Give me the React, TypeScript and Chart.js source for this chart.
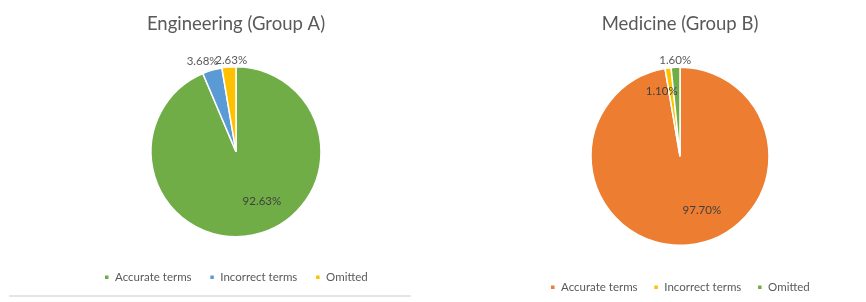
import React, { useEffect, useRef } from 'react';
import { Chart, registerables } from 'chart.js';

Chart.register(...registerables);

// ---- Data ----
const categories = ['Accurate terms', 'Incorrect terms', 'Omitted'];
const engineeringTitle = 'Engineering (Group A)';
const engineeringValues = [92.63, 3.68, 2.63];
const engineeringColors = ['#70AD47', '#5B9BD5', '#FFC000'];
const medicineTitle = 'Medicine (Group B)';
const medicineValues = [97.7, 1.1, 1.6];
const medicineColors = ['#ED7D31', '#FFC000', '#70AD47'];

// ---- Label placement styles (inside / outside end) ----
type Placement = { inside: boolean; r?: number; shift?: number };
const engineeringLabelPlacement: Placement[] = [
  { inside: true, r: 0.66, shift: -16 },
  { inside: false, shift: -4 },
  { inside: false, shift: 1.8 },
];
const medicineLabelPlacement: Placement[] = [
  { inside: true, r: 0.66, shift: -17 },
  { inside: true, r: 0.76, shift: -8 },
  { inside: false },
];

const FONT = 'Lato, "Open Sans", sans-serif';
const LABEL_SIZE = 11.5;
const LABEL_GAP = 0.5;

function makePieLabels(placement: Placement[]) {
  return {
    id: 'pieLabels',
    afterDatasetsDraw(chart: any) {
      const ctx: CanvasRenderingContext2D = chart.ctx;
      const meta = chart.getDatasetMeta(0);
      const values = chart.data.datasets[0].data as number[];
      ctx.save();
      ctx.font = `${LABEL_SIZE}px ${FONT}`;
      ctx.textAlign = 'center';
      ctx.textBaseline = 'middle';
      meta.data.forEach((arc: any, i: number) => {
        const x = arc.x;
        const y = arc.y;
        const startAngle = arc.startAngle;
        const endAngle = arc.endAngle;
        const outerRadius = arc.outerRadius;
        const p = placement[i] || { inside: false };
        const text = Number(values[i]).toFixed(2) + '%';
        const a = (startAngle + endAngle) / 2 + (((p.shift || 0) * Math.PI) / 180);
        const dx = Math.cos(a);
        const dy = Math.sin(a);
        let d: number;
        if (p.inside) {
          d = outerRadius * (p.r || 0.66);
        } else {
          const w = ctx.measureText(text).width;
          d = outerRadius + LABEL_GAP + (Math.abs(dx) * w) / 2 + (Math.abs(dy) * LABEL_SIZE) / 2;
        }
        ctx.fillStyle = p.inside ? '#404040' : '#595959';
        ctx.fillText(text, x + dx * d, y + dy * d);
      });
      ctx.restore();
    },
  };
}

type PieProps = {
  title: string;
  values: number[];
  colors: string[];
  placement: Placement[];
  left: number;
  width: number;
  height: number;
  radius: number;
  titlePadBottom: number;
  legendPadding: number;
  layoutPadBottom: number;
};

function PieChart(props: PieProps) {
  const ref = useRef<HTMLCanvasElement | null>(null);
  useEffect(() => {
    if (!ref.current) return;
    const chart = new Chart(ref.current, {
      type: 'pie',
      data: {
        labels: categories,
        datasets: [
          {
            data: props.values,
            backgroundColor: props.colors,
            borderColor: '#ffffff',
            borderWidth: 1.5,
            hoverOffset: 0,
            radius: props.radius,
          } as any,
        ],
      },
      options: {
        responsive: false,
        animation: false,
        devicePixelRatio: 1,
        layout: { padding: { top: 0, left: 0, right: 0, bottom: props.layoutPadBottom } },
        plugins: {
          title: {
            display: true,
            text: props.title,
            color: '#595959',
            font: { family: FONT, size: 18.5, weight: 'normal' },
            padding: { top: 13, bottom: props.titlePadBottom },
          },
          legend: {
            display: true,
            position: 'bottom',
            labels: {
              boxWidth: 5,
              boxHeight: 5,
              color: '#595959',
              padding: props.legendPadding,
              font: { family: FONT, size: 11.5 },
            },
          },
          tooltip: { enabled: false },
        } as any,
      },
      plugins: [makePieLabels(props.placement) as any],
    });
    return () => chart.destroy();
  }, []);
  return (
    <canvas
      ref={ref}
      width={props.width}
      height={props.height}
      style={{ position: 'absolute', left: props.left, top: 0, width: props.width, height: props.height }}
    />
  );
}

export default function App() {
  return (
    <div
      style={{
        position: 'absolute',
        left: 0,
        top: 0,
        width: 866,
        height: 302,
        overflow: 'hidden',
        background: '#ffffff',
      }}
    >
      <PieChart
        title={engineeringTitle}
        values={engineeringValues}
        colors={engineeringColors}
        placement={engineeringLabelPlacement}
        left={0}
        width={472}
        height={302}
        radius={85}
        titlePadBottom={14.8}
        legendPadding={18}
        layoutPadBottom={9}
      />
      <PieChart
        title={medicineTitle}
        values={medicineValues}
        colors={medicineColors}
        placement={medicineLabelPlacement}
        left={494}
        width={372}
        height={303}
        radius={89}
        titlePadBottom={11.8}
        legendPadding={16}
        layoutPadBottom={0}
      />
      <div
        style={{
          position: 'absolute',
          left: 9,
          top: 295,
          width: 402,
          height: 2,
          background: '#e6e6e6',
        }}
      />
    </div>
  );
}
